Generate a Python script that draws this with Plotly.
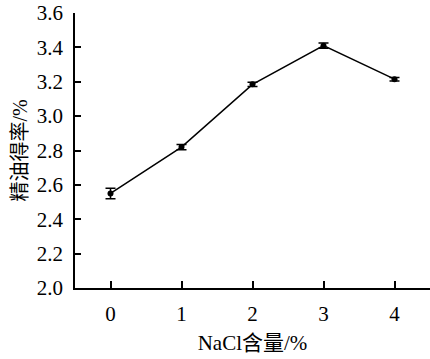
import plotly.graph_objects as go

nacl = [0, 1, 2, 3, 4]
oil_yield = [2.55, 2.82, 3.185, 3.41, 3.215]
err = [0.03, 0.015, 0.012, 0.015, 0.01]
y_ticks = [2.0, 2.2, 2.4, 2.6, 2.8, 3.0, 3.2, 3.4, 3.6]

font_family = "Liberation Serif, Times New Roman, Noto Sans CJK SC, serif"

fig = go.Figure()
fig.add_trace(go.Scatter(
    x=nacl, y=oil_yield, mode="lines+markers",
    line=dict(color="black", width=1.5),
    marker=dict(color="black", size=6, symbol="circle"),
    error_y=dict(type="data", array=err, visible=True, color="black", thickness=1.5, width=5),
    showlegend=False,
))

fig.update_layout(
    width=430, height=359,
    margin=dict(l=75, r=0, t=13, b=71),
    paper_bgcolor="white", plot_bgcolor="white",
    font=dict(family=font_family, color="black", size=21),
    xaxis=dict(
        range=[-0.5, 4.5], tickvals=nacl, ticktext=[str(v) for v in nacl],
        showline=True, linecolor="black", linewidth=1.5,
        ticks="inside", ticklen=7, tickwidth=1.5, tickcolor="black",
        showgrid=False, zeroline=False,
        tickfont=dict(size=21), ticklabelstandoff=6,
        title=dict(text="NaCl含量/%", font=dict(size=21), standoff=10),
    ),
    yaxis=dict(
        range=[2.0, 3.6], tickvals=y_ticks, ticktext=[f"{v:.1f}" for v in y_ticks],
        showline=True, linecolor="black", linewidth=1.5,
        ticks="inside", ticklen=6, tickwidth=1.5, tickcolor="black",
        showgrid=False, zeroline=False,
        tickfont=dict(size=21), ticklabelstandoff=6,
        title=dict(text="精油得率/%", font=dict(size=20), standoff=4),
    ),
)

fig.write_html("out.html")
